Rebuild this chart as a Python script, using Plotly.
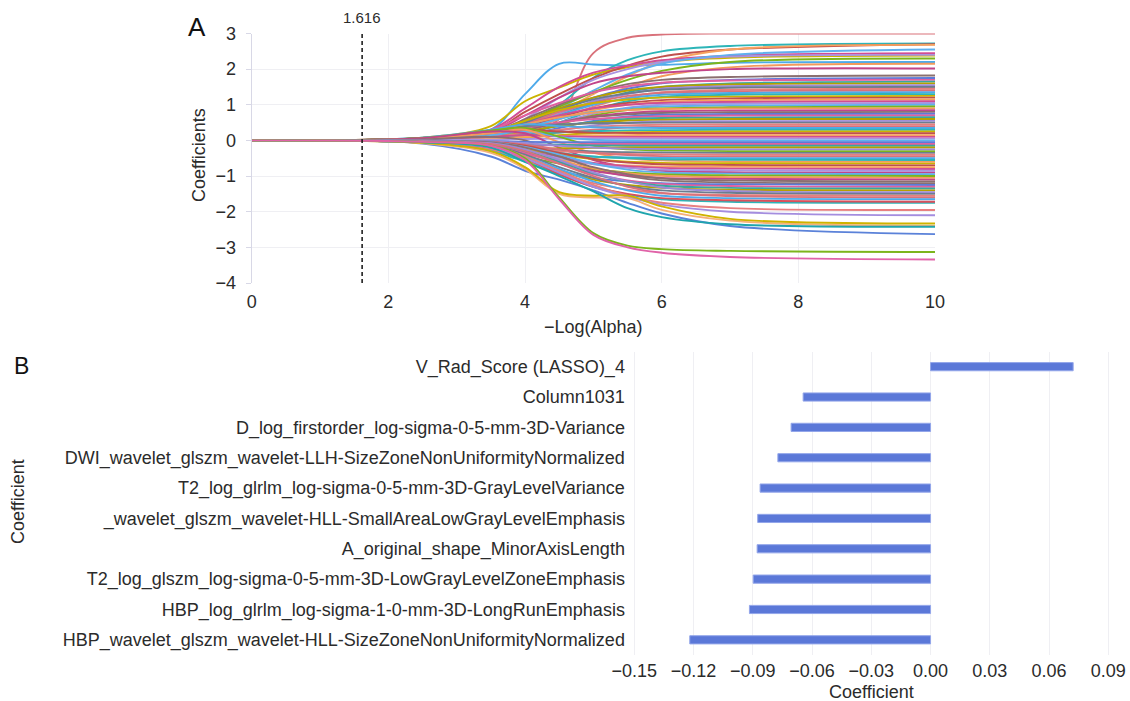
import plotly.graph_objects as go

# ---------------- Panel A: LASSO coefficient paths ----------------
# -Log(Alpha) positions at which each path is sampled
path_x = [0, 1, 2.5, 3.5, 4, 4.5, 5, 5.5, 6, 7, 10]
# every coefficient is zero at the two smallest -Log(Alpha) values
path_start = [0.0, 0.0]
# coefficient values at -Log(Alpha) = 2.5, 3.5, 4, 4.5, 5, 5.5, 6, 7, 10
coef_paths = [
    [0.05, 0.12, 0.20, 0.60, 2.45, 2.88, 2.97, 3.00, 3.00],
    [0.08, 0.30, 1.30, 2.15, 2.13, 2.10, 2.12, 2.18, 2.20],
    [0.05, 0.20, 0.50, 1.00, 1.76, 2.25, 2.50, 2.65, 2.72],
    [0.08, 0.40, 1.10, 1.48, 1.85, 2.05, 2.20, 2.32, 2.38],
    [0.06, 0.25, 0.80, 1.30, 1.75, 2.10, 2.35, 2.55, 2.70],
    [0.03, 0.10, 0.40, 0.80, 1.30, 1.80, 2.20, 2.55, 2.68],
    [0.06, 0.30, 0.90, 1.50, 1.90, 2.10, 2.25, 2.38, 2.45],
    [0.03, 0.15, 0.60, 1.20, 1.70, 2.00, 2.20, 2.35, 2.40],
    [0.03, 0.12, 0.45, 0.90, 1.40, 1.85, 2.15, 2.40, 2.55],
    [0.06, 0.20, 0.55, 0.95, 1.35, 1.70, 1.95, 2.20, 2.30],
    [0.03, 0.10, 0.35, 0.70, 1.10, 1.50, 1.80, 2.05, 2.15],
    [0.06, 0.25, 0.70, 1.20, 1.60, 1.80, 1.90, 2.00, 2.02],
    [0.06, 0.22, 0.60, 1.00, 1.35, 1.58, 1.70, 1.78, 1.82],
    [0.03, 0.15, 0.45, 0.85, 1.20, 1.45, 1.60, 1.70, 1.75],
    [0.07, 0.30, 0.70, 1.05, 1.35, 1.52, 1.62, 1.68, 1.70],
    [0.03, 0.10, 0.35, 0.70, 1.05, 1.35, 1.50, 1.60, 1.65],
    [0.06, 0.25, 0.55, 0.90, 1.20, 1.40, 1.50, 1.57, 1.60],
    [0.03, 0.12, 0.40, 0.75, 1.10, 1.30, 1.45, 1.52, 1.55],
    [0.05, 0.20, 0.50, 0.85, 1.15, 1.32, 1.42, 1.48, 1.50],
    [0.02, 0.08, 0.30, 0.60, 0.95, 1.20, 1.35, 1.42, 1.45],
    [0.05, 0.18, 0.45, 0.80, 1.05, 1.25, 1.33, 1.38, 1.40],
    [0.04, 0.15, 0.40, 0.70, 1.00, 1.18, 1.28, 1.33, 1.35],
    [0.01, 0.05, 0.20, 0.50, 0.85, 1.10, 1.22, 1.28, 1.30],
    [0.06, 0.25, 0.55, 0.85, 1.05, 1.15, 1.20, 1.23, 1.25],
    [0.03, 0.12, 0.35, 0.65, 0.90, 1.05, 1.13, 1.18, 1.20],
    [0.03, 0.10, 0.30, 0.60, 0.85, 1.00, 1.08, 1.13, 1.15],
    [0.05, 0.20, 0.45, 0.70, 0.90, 1.00, 1.05, 1.08, 1.10],
    [0.02, 0.08, 0.25, 0.50, 0.75, 0.92, 1.00, 1.03, 1.05],
    [0.04, 0.15, 0.35, 0.60, 0.80, 0.90, 0.95, 0.98, 1.00],
    [0.01, 0.05, 0.20, 0.45, 0.70, 0.85, 0.90, 0.93, 0.95],
    [0.06, 0.22, 0.45, 0.65, 0.78, 0.85, 0.88, 0.90, 0.90],
    [0.03, 0.10, 0.28, 0.50, 0.67, 0.77, 0.82, 0.84, 0.85],
    [0.03, 0.12, 0.30, 0.50, 0.65, 0.73, 0.77, 0.79, 0.80],
    [0.01, 0.05, 0.15, 0.35, 0.55, 0.67, 0.72, 0.74, 0.75],
    [0.05, 0.20, 0.35, 0.50, 0.60, 0.65, 0.68, 0.70, 0.70],
    [0.02, 0.08, 0.22, 0.40, 0.52, 0.60, 0.63, 0.64, 0.65],
    [0.03, 0.10, 0.25, 0.40, 0.50, 0.56, 0.58, 0.60, 0.60],
    [0.01, 0.04, 0.12, 0.28, 0.42, 0.50, 0.53, 0.54, 0.55],
    [0.07, 0.25, 0.40, 0.45, 0.48, 0.49, 0.50, 0.50, 0.50],
    [0.03, 0.10, 0.20, 0.30, 0.38, 0.42, 0.44, 0.45, 0.45],
    [0.02, 0.05, 0.12, 0.22, 0.30, 0.36, 0.38, 0.40, 0.40],
    [0.08, 0.30, 0.45, 0.40, 0.37, 0.36, 0.35, 0.35, 0.35],
    [0.02, 0.08, 0.15, 0.22, 0.26, 0.28, 0.29, 0.30, 0.30],
    [0.01, 0.03, 0.08, 0.15, 0.20, 0.23, 0.24, 0.25, 0.25],
    [0.06, 0.20, 0.30, 0.25, 0.22, 0.21, 0.20, 0.20, 0.20],
    [0.02, 0.05, 0.10, 0.12, 0.14, 0.15, 0.15, 0.15, 0.15],
    [0.03, 0.10, 0.15, 0.12, 0.10, 0.10, 0.10, 0.10, 0.10],
    [0.01, 0.02, 0.04, 0.05, 0.05, 0.05, 0.05, 0.05, 0.05],
    [0.04, 0.15, 0.25, 0.10, 0.02, 0.00, 0.00, 0.00, 0.00],
    [0.07, 0.28, 0.35, 0.10, -0.15, -0.25, -0.28, -0.30, -0.30],
    [0.05, 0.20, 0.30, -0.05, -0.35, -0.50, -0.56, -0.59, -0.60],
    [0.06, 0.25, 0.20, -0.20, -0.55, -0.75, -0.85, -0.89, -0.90],
    [0.03, 0.10, 0.00, -0.40, -0.80, -1.00, -1.12, -1.18, -1.20],
    [-0.01, -0.02, -0.04, -0.05, -0.05, -0.05, -0.05, -0.05, -0.05],
    [-0.03, -0.10, -0.15, -0.12, -0.10, -0.10, -0.10, -0.10, -0.10],
    [-0.02, -0.05, -0.10, -0.12, -0.14, -0.15, -0.15, -0.15, -0.15],
    [-0.05, -0.15, -0.25, -0.22, -0.21, -0.20, -0.20, -0.20, -0.20],
    [-0.01, -0.03, -0.08, -0.15, -0.20, -0.23, -0.24, -0.25, -0.25],
    [-0.03, -0.08, -0.18, -0.26, -0.31, -0.33, -0.34, -0.35, -0.35],
    [-0.03, -0.10, -0.20, -0.30, -0.35, -0.38, -0.39, -0.40, -0.40],
    [-0.01, -0.04, -0.12, -0.25, -0.35, -0.41, -0.44, -0.45, -0.45],
    [-0.05, -0.20, -0.35, -0.42, -0.46, -0.48, -0.49, -0.50, -0.50],
    [-0.02, -0.08, -0.20, -0.35, -0.45, -0.50, -0.53, -0.54, -0.55],
    [-0.03, -0.10, -0.25, -0.40, -0.52, -0.60, -0.63, -0.64, -0.65],
    [-0.01, -0.05, -0.15, -0.35, -0.52, -0.62, -0.67, -0.69, -0.70],
    [-0.05, -0.20, -0.40, -0.55, -0.65, -0.70, -0.73, -0.74, -0.75],
    [-0.03, -0.10, -0.28, -0.48, -0.63, -0.72, -0.77, -0.79, -0.80],
    [-0.03, -0.12, -0.30, -0.50, -0.67, -0.77, -0.82, -0.84, -0.85],
    [-0.01, -0.05, -0.18, -0.40, -0.65, -0.82, -0.90, -0.93, -0.95],
    [-0.06, -0.22, -0.45, -0.65, -0.80, -0.90, -0.95, -0.98, -1.00],
    [-0.03, -0.10, -0.30, -0.55, -0.78, -0.92, -0.99, -1.03, -1.05],
    [-0.04, -0.15, -0.35, -0.60, -0.85, -0.98, -1.05, -1.08, -1.10],
    [-0.02, -0.06, -0.20, -0.45, -0.75, -0.95, -1.07, -1.12, -1.15],
    [-0.06, -0.25, -0.55, -0.85, -1.05, -1.15, -1.20, -1.23, -1.25],
    [-0.03, -0.12, -0.35, -0.65, -0.95, -1.12, -1.22, -1.28, -1.30],
    [-0.03, -0.10, -0.30, -0.60, -0.92, -1.15, -1.27, -1.33, -1.35],
    [-0.05, -0.20, -0.50, -0.85, -1.10, -1.25, -1.33, -1.38, -1.40],
    [-0.02, -0.08, -0.25, -0.55, -0.90, -1.15, -1.32, -1.42, -1.45],
    [-0.04, -0.15, -0.40, -0.75, -1.05, -1.28, -1.40, -1.47, -1.50],
    [-0.06, -0.25, -0.55, -0.90, -1.20, -1.38, -1.48, -1.53, -1.55],
    [-0.03, -0.10, -0.30, -0.65, -1.00, -1.30, -1.47, -1.56, -1.60],
    [-0.05, -0.18, -0.45, -0.80, -1.15, -1.40, -1.55, -1.62, -1.65],
    [-0.07, -0.30, -0.60, -0.95, -1.30, -1.52, -1.65, -1.72, -1.75],
    [-0.05, -0.20, -0.50, -0.95, -1.30, -1.50, -1.62, -1.68, -1.72],
    [-0.04, -0.15, -0.45, -0.85, -1.25, -1.55, -1.75, -1.90, -1.95],
    [-0.05, -0.20, -0.50, -0.90, -1.30, -1.58, -1.80, -2.00, -2.10],
    [-0.09, -0.45, -0.85, -1.10, -1.40, -1.75, -2.05, -2.40, -2.63],
    [-0.08, -0.35, -0.80, -1.50, -1.60, -1.62, -1.95, -2.25, -2.40],
    [-0.07, -0.30, -0.75, -1.45, -1.55, -1.55, -1.85, -2.20, -2.33],
    [-0.05, -0.20, -0.60, -1.00, -1.43, -1.90, -2.15, -2.35, -2.42],
    [-0.04, -0.15, -0.50, -1.60, -2.60, -2.95, -3.05, -3.10, -3.13],
    [-0.04, -0.15, -0.55, -1.65, -2.65, -3.00, -3.15, -3.27, -3.34],
]
alpha_selected = 1.616

# ---------------- Panel B: selected features ----------------
feature_names = [
    "V_Rad_Score (LASSO)_4",
    "Column1031",
    "D_log_firstorder_log-sigma-0-5-mm-3D-Variance",
    "DWI_wavelet_glszm_wavelet-LLH-SizeZoneNonUniformityNormalized",
    "T2_log_glrlm_log-sigma-0-5-mm-3D-GrayLevelVariance",
    "_wavelet_glszm_wavelet-HLL-SmallAreaLowGrayLevelEmphasis",
    "A_original_shape_MinorAxisLength",
    "T2_log_glszm_log-sigma-0-5-mm-3D-LowGrayLevelZoneEmphasis",
    "HBP_log_glrlm_log-sigma-1-0-mm-3D-LongRunEmphasis",
    "HBP_wavelet_glszm_wavelet-HLL-SizeZoneNonUniformityNormalized",
]
feature_coefs = [0.0722, -0.0645, -0.0706, -0.0773, -0.0863,
                 -0.0875, -0.0878, -0.0898, -0.0917, -0.1219]
coef_ticks = [-0.15, -0.12, -0.09, -0.06, -0.03, 0.0, 0.03, 0.06, 0.09]

# ---------------- styling ----------------
W, H = 1130, 701
FONT = "Liberation Sans, Arial, Helvetica, sans-serif"
TEXT = "#2b2b2b"
GRID = "#efeff3"
palette = ["#d9727b", "#4eaaea", "#2db5b8", "#cbb300", "#c0504d", "#f7a25e",
           "#d14d93", "#a993e0", "#5fb0ee", "#7cb51c", "#f39a5b", "#c2458a",
           "#8b6f6f", "#5b7bd9", "#e0609f", "#3aa6a0", "#b5a000", "#9c8ad6",
           "#6b7d8f", "#e57f7f"]
tail_colors = ["#d9505c", "#e88080", "#a48ddf", "#5b82d9", "#f6b07a",
               "#cfb300", "#1fa5ad", "#7cb51c", "#e063a8"]


def px_x(p):
    return p / W


def px_y(p):
    return 1 - p / H


def fmt_tick(v, digits):
    s = f"{abs(v):.{digits}f}"
    return ("\u2212" + s) if v < 0 else s


def label(text, x, y, size=18, angle=0, color=TEXT, xref="paper"):
    return dict(text=text, x=x, y=y, xref=xref, yref="paper",
                xanchor="center", yanchor="middle", showarrow=False,
                textangle=angle, font=dict(family=FONT, size=size, color=color))


fig = go.Figure()

n_paths = len(coef_paths)
n_tail = len(tail_colors)
for i, vals in enumerate(coef_paths):
    if i >= n_paths - n_tail:
        color = tail_colors[i - (n_paths - n_tail)]
    else:
        color = palette[i % len(palette)]
    fig.add_trace(go.Scatter(
        x=path_x, y=path_start + vals, mode="lines",
        line=dict(color=color, width=1.9, shape="spline", smoothing=1.0),
        xaxis="x", yaxis="y", showlegend=False, hoverinfo="skip",
    ))

fig.add_trace(go.Bar(
    x=feature_coefs, y=feature_names, orientation="h",
    marker=dict(color="#5b78d8", line=dict(color="#93a6ea", width=1)),
    width=0.27, xaxis="x2", yaxis="y2", showlegend=False,
))

tick_font = dict(family=FONT, size=18, color=TEXT)
a_yticks = [-4, -3, -2, -1, 0, 1, 2, 3]

fig.update_layout(
    template="none",
    width=W, height=H,
    margin=dict(l=0, r=0, t=0, b=0, autoexpand=False),
    paper_bgcolor="white", plot_bgcolor="white",
    font=dict(family=FONT, color=TEXT),
    xaxis=dict(
        domain=[px_x(251.7), px_x(935)], range=[0, 10], anchor="y",
        automargin=False, tickvals=[0, 2, 4, 6, 8, 10], showgrid=True,
        gridcolor=GRID, gridwidth=1, zeroline=False, showline=False,
        ticks="", tickangle=0, tickfont=tick_font, ticklabelstandoff=6,
    ),
    yaxis=dict(
        domain=[px_y(283), px_y(33.5)], range=[-4, 3], anchor="x",
        automargin=False, tickvals=a_yticks,
        ticktext=[fmt_tick(v, 0) for v in a_yticks],
        showgrid=True, gridcolor=GRID, zeroline=False,
        showline=True, linecolor="#d8d8e6", linewidth=1,
        ticks="outside", ticklen=5, tickcolor="#d8d8e6",
        tickfont=tick_font, ticklabelstandoff=6,
    ),
    xaxis2=dict(
        domain=[px_x(631.9), px_x(1110.7)], range=[-0.1512, 0.0912],
        anchor="y2", automargin=False, tickvals=coef_ticks,
        ticktext=[fmt_tick(v, 2) for v in coef_ticks],
        showgrid=True, gridcolor=GRID, zeroline=False, showline=False,
        ticks="", tickangle=0, tickfont=tick_font, ticklabelstandoff=3,
    ),
    yaxis2=dict(
        domain=[px_y(655), px_y(351.5)], anchor="x2", automargin=False,
        categoryorder="array", categoryarray=feature_names,
        autorange="reversed", showgrid=False, zeroline=False,
        showline=False, ticks="", tickfont=tick_font, ticklabelstandoff=6,
    ),
    shapes=[dict(
        type="line", xref="x", yref="y", x0=alpha_selected, x1=alpha_selected,
        y0=-4, y1=3, line=dict(color="#111111", width=1.5, dash="4px,3px"),
    )],
    annotations=[
        label("A", px_x(197), px_y(27), size=26, color="#111111"),
        label("B", px_x(21), px_y(366), size=23, color="#111111"),
        label(f"{alpha_selected:.3f}", alpha_selected, px_y(18), size=15,
              xref="x"),
        label("Coefficients", px_x(199), px_y(155), angle=-90),
        label("\u2212Log(Alpha)", px_x(593), px_y(327)),
        label("Coefficient", px_x(18), px_y(502), angle=-90),
        label("Coefficient", px_x(871), px_y(692)),
    ],
)

fig.write_html("out.html")
